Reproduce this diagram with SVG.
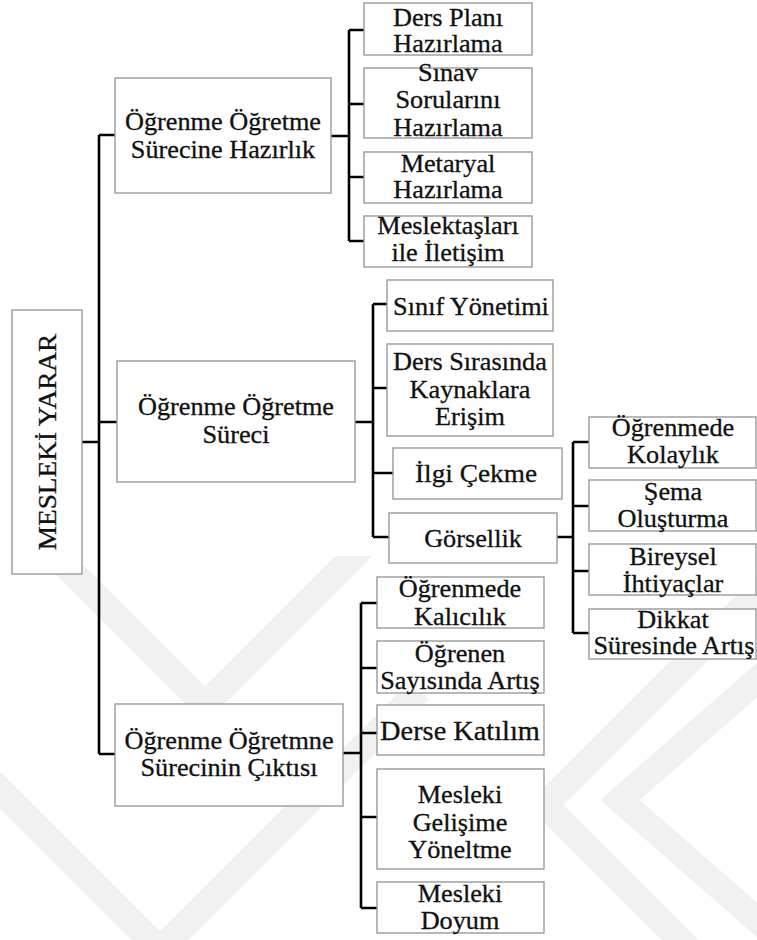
<svg xmlns="http://www.w3.org/2000/svg" width="757" height="940" viewBox="0 0 757 940">
<style>
.box{fill:#fff;stroke:#9a9a9a;stroke-width:1.4}
text{font-family:'Liberation Serif','Times New Roman',serif;font-size:25px;fill:#111;stroke:#111;stroke-width:0.3;text-anchor:middle}
.c{fill:none;stroke:#000;stroke-width:2.6;stroke-linejoin:miter}
.wm{fill:none;stroke:#f1f1f1;stroke-width:26}
</style>
<defs>
<clipPath id="wmclip"><rect x="0" y="556" width="757" height="384"/></clipPath>
</defs>
<rect width="757" height="940" fill="#fff"/>
<g id="watermark" clip-path="url(#wmclip)">
<polyline class="wm" points="-20,480 205,705 430,480"/>
<polyline class="wm" points="-20,770 160,950"/>
<polyline class="wm" points="150,960 420,690"/>
<polyline class="wm" points="780,570 545,805 700,960"/>
<polyline class="wm" points="780,660 620,800 780,940"/>
</g>
<g id="connectors">
<path class="c" d="M82,442H99M99,135V754M99,135H115M99,422H117M99,754H115"/>
<path class="c" d="M331,136H349M349,30V241M349,30H364M349,104H364M349,177H364M349,241H364"/>
<path class="c" d="M355,422H373M373,304V537M373,304H387M373,388H387M373,473H393M373,537H389"/>
<path class="c" d="M557,537H573M573,442V633M573,442H589M573,506H589M573,571H589M573,633H589"/>
<path class="c" d="M343,753H361M361,603V908M361,603H377M361,668H377M361,733H377M361,817H377M361,908H377"/>
</g>
<g id="root">
<rect class="box" x="12" y="310" width="70" height="264"/>
<text transform="translate(56,442) rotate(-90) scale(1.05,1)" style="font-size:26px">MESLEKİ YARAR</text>
</g>
<g id="hazirlik">
<rect class="box" x="115" y="78" width="216" height="115"/>
<text transform="translate(223,130) scale(1.05,1)">Öğrenme Öğretme</text>
<text transform="translate(223,158) scale(1.05,1)">Sürecine Hazırlık</text>
</g>
<g id="surec">
<rect class="box" x="117" y="361" width="238" height="121"/>
<text transform="translate(236,415) scale(1.05,1)">Öğrenme Öğretme</text>
<text transform="translate(236,443) scale(1.05,1)">Süreci</text>
</g>
<g id="cikti">
<rect class="box" x="115" y="704" width="228" height="102"/>
<text transform="translate(229,749) scale(1.05,1)">Öğrenme Öğretmne</text>
<text transform="translate(229,776) scale(1.05,1)">Sürecinin Çıktısı</text>
</g>
<g id="ders-plani">
<rect class="box" x="364" y="3" width="168" height="52"/>
<text transform="translate(448,26) scale(1.05,1)">Ders Planı</text>
<text transform="translate(448,52) scale(1.05,1)">Hazırlama</text>
</g>
<g id="sinav">
<rect class="box" x="364" y="68" width="168" height="70"/>
<text transform="translate(448,81) scale(1.05,1)">Sınav</text>
<text transform="translate(448,108) scale(1.05,1)">Sorularını</text>
<text transform="translate(448,136) scale(1.05,1)">Hazırlama</text>
</g>
<g id="metaryal">
<rect class="box" x="364" y="152" width="168" height="51"/>
<text transform="translate(448,172) scale(1.05,1)">Metaryal</text>
<text transform="translate(448,198) scale(1.05,1)">Hazırlama</text>
</g>
<g id="meslektas">
<rect class="box" x="364" y="216" width="168" height="51"/>
<text transform="translate(448,234) scale(1.05,1)">Meslektaşları</text>
<text transform="translate(448,261) scale(1.05,1)">ile İletişim</text>
</g>
<g id="sinif">
<rect class="box" x="387" y="280" width="166" height="51"/>
<text transform="translate(471,315) scale(1.05,1)">Sınıf Yönetimi</text>
</g>
<g id="kaynak">
<rect class="box" x="387" y="344" width="166" height="92"/>
<text transform="translate(470,370) scale(1.05,1)">Ders Sırasında</text>
<text transform="translate(470,398) scale(1.05,1)">Kaynaklara</text>
<text transform="translate(470,425) scale(1.05,1)">Erişim</text>
</g>
<g id="ilgi">
<rect class="box" x="393" y="448" width="169" height="51"/>
<text transform="translate(476,482) scale(1.05,1)" style="font-size:26px">İlgi Çekme</text>
</g>
<g id="gorsellik">
<rect class="box" x="389" y="513" width="168" height="50"/>
<text transform="translate(473,547) scale(1.05,1)">Görsellik</text>
</g>
<g id="kolaylik">
<rect class="box" x="589" y="417" width="167" height="51"/>
<text transform="translate(673,436) scale(1.05,1)">Öğrenmede</text>
<text transform="translate(673,463) scale(1.05,1)">Kolaylık</text>
</g>
<g id="sema">
<rect class="box" x="589" y="480" width="167" height="51"/>
<text transform="translate(673,500) scale(1.05,1)">Şema</text>
<text transform="translate(673,527) scale(1.05,1)">Oluşturma</text>
</g>
<g id="bireysel">
<rect class="box" x="589" y="544" width="167" height="51"/>
<text transform="translate(673,565) scale(1.05,1)">Bireysel</text>
<text transform="translate(673,592) scale(1.05,1)">İhtiyaçlar</text>
</g>
<g id="dikkat">
<rect class="box" x="589" y="609" width="167" height="50"/>
<text transform="translate(673,628) scale(1.05,1)">Dikkat</text>
<text transform="translate(674,654) scale(1.05,1)">Süresinde Artış</text>
</g>
<g id="kalicilik">
<rect class="box" x="377" y="577" width="167" height="51"/>
<text transform="translate(460,597) scale(1.05,1)">Öğrenmede</text>
<text transform="translate(460,625) scale(1.05,1)">Kalıcılık</text>
</g>
<g id="ogrenen">
<rect class="box" x="377" y="641" width="167" height="52"/>
<text transform="translate(460,662) scale(1.05,1)">Öğrenen</text>
<text transform="translate(460,689) scale(1.05,1)">Sayısında Artış</text>
</g>
<g id="katilim">
<rect class="box" x="377" y="705" width="167" height="50"/>
<text transform="translate(460,740) scale(1.05,1)" style="font-size:27px">Derse Katılım</text>
</g>
<g id="gelisim">
<rect class="box" x="377" y="769" width="167" height="100"/>
<text transform="translate(460,803) scale(1.05,1)">Mesleki</text>
<text transform="translate(460,831) scale(1.05,1)">Gelişime</text>
<text transform="translate(460,858) scale(1.05,1)">Yöneltme</text>
</g>
<g id="doyum">
<rect class="box" x="377" y="882" width="167" height="51"/>
<text transform="translate(460,902) scale(1.05,1)">Mesleki</text>
<text transform="translate(460,929) scale(1.05,1)">Doyum</text>
</g>
</svg>
